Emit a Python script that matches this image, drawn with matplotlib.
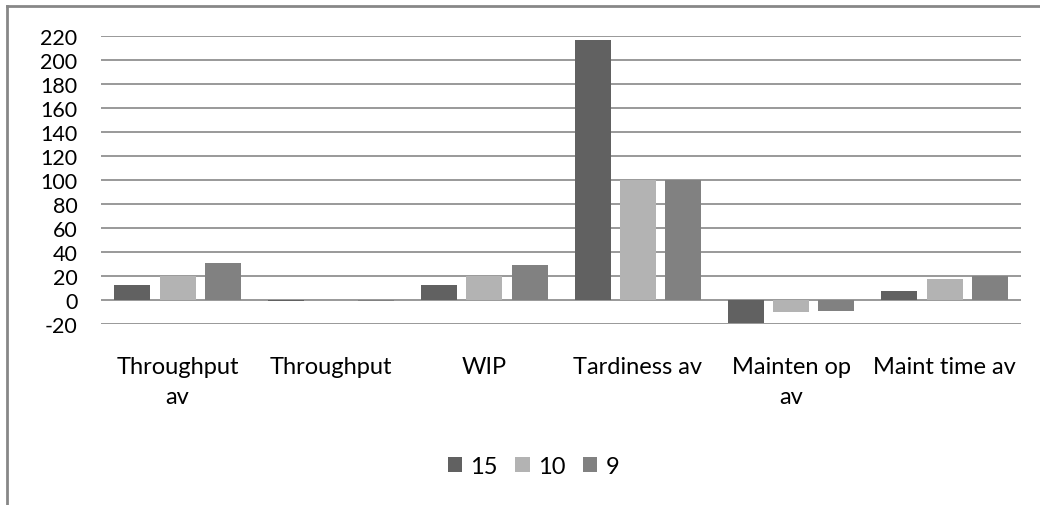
import matplotlib

matplotlib.use("Agg")

import matplotlib.pyplot as plt
import numpy as np
from matplotlib.lines import Line2D

plt.rcParams["font.family"] = ["Lato", "DejaVu Sans"]

CATEGORIES = ["Throughput\nav", "Throughput", "WIP", "Tardiness av", "Mainten op\nav", "Maint time av"]
SERIES = ["15", "10", "9"]
VALUES_15 = [12, -1, 12, 217, -19, 7]
VALUES_10 = [20, 0, 20, 100, -10, 17]
VALUES_9 = [31, -1, 29, 100, -9, 20]
Y_TICKS = list(range(-20, 221, 20))

COLORS = ["#616161", "#b3b3b3", "#818181"]
GRID = "#878787"

fig = plt.figure(figsize=(10.4, 5.06), dpi=100)
ax = fig.add_axes([0.097, 0.358, 0.885, 0.569])

x = np.arange(len(CATEGORIES))
width = 0.235
gap = 0.295
for i, (name, vals) in enumerate(zip(SERIES, [VALUES_15, VALUES_10, VALUES_9])):
    ax.bar(x + (i - 1) * gap, vals, width=width, color=COLORS[i], label=name, zorder=3)

ax.set_xlim(-0.5, len(CATEGORIES) - 0.5)
ax.set_ylim(-20, 220)
ax.set_yticks(Y_TICKS)
ax.set_yticklabels([str(t) for t in Y_TICKS], fontsize=15.5, color="#000000")
ax.set_xticks(x)
ax.set_xticklabels(CATEGORIES, fontsize=17, color="#000000", linespacing=1.55)
ax.tick_params(axis="y", length=0, pad=17)
ax.tick_params(axis="x", length=0, pad=23)
ax.yaxis.grid(True, color=GRID, linewidth=1.2)
ax.set_axisbelow(True)
for spine in ax.spines.values():
    spine.set_visible(False)

fig.legend(
    loc="center",
    bbox_to_anchor=(0.513, 0.077),
    ncol=3,
    frameon=False,
    fontsize=17,
    handlelength=0.6,
    handleheight=0.6,
    handletextpad=0.35,
    columnspacing=0.75,
)

# chart frame, only top and left edges show
fig.add_artist(Line2D([0.0067, 1.0], [0.986, 0.986], color=GRID, linewidth=2.0, transform=fig.transFigure))
fig.add_artist(Line2D([0.0067, 0.0067], [0.0, 0.986], color=GRID, linewidth=2.0, transform=fig.transFigure))

fig.savefig("out.png", dpi=100)
